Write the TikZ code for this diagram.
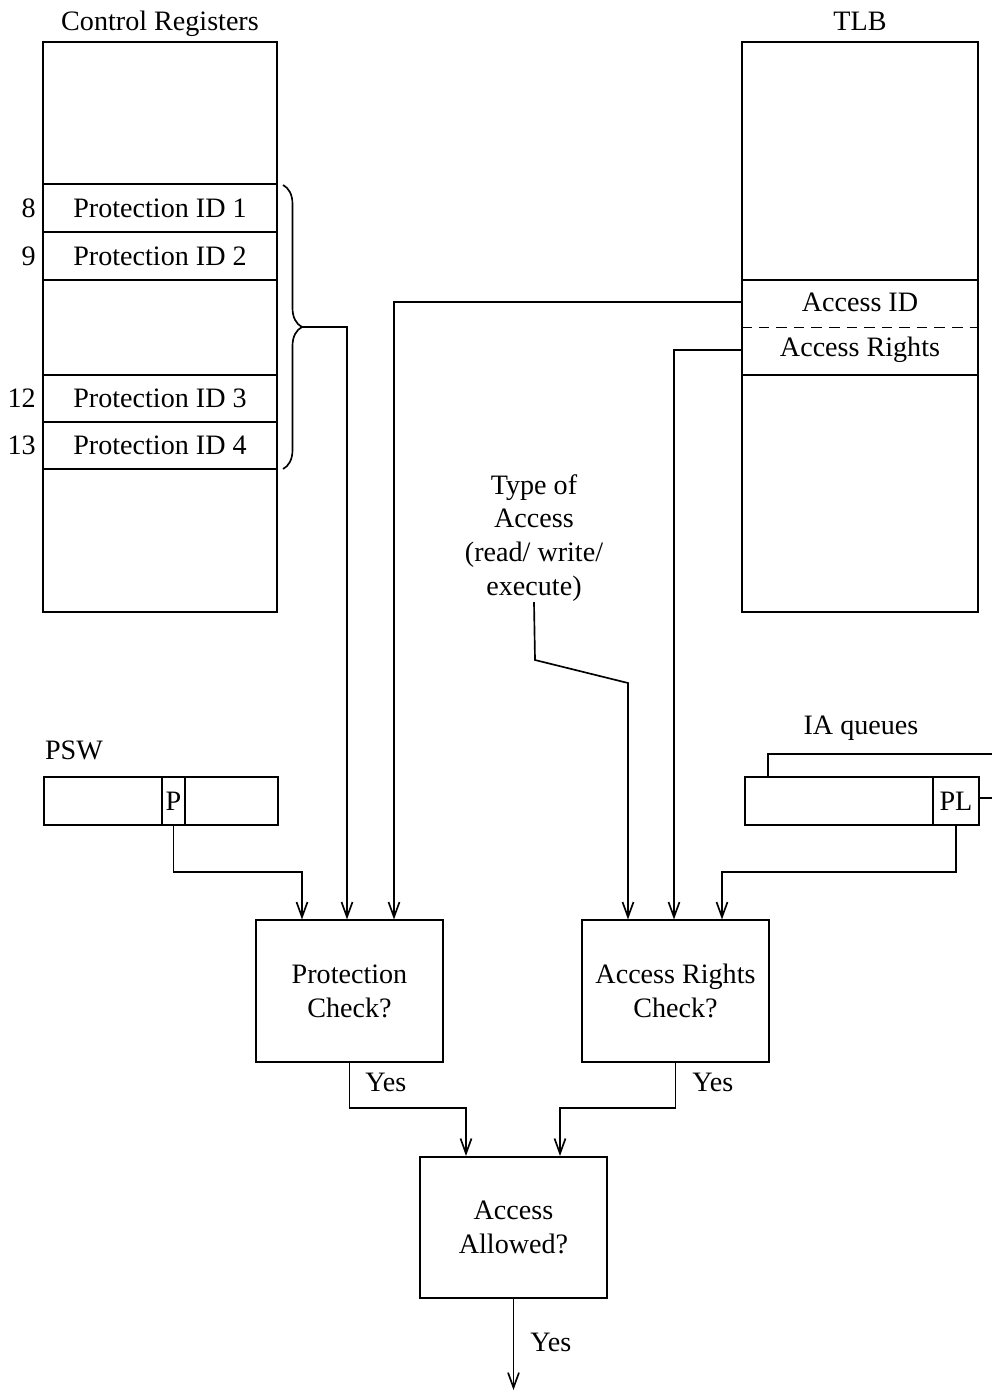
\documentclass[tikz,border=0pt]{standalone}
\usepackage{fontspec}
\setmainfont{Liberation Serif}
\usetikzlibrary{arrows.meta,decorations.pathreplacing,calc}
\begin{document}
\begin{tikzpicture}[x=0.02cm,y=-0.02cm,
  every node/.style={font=\fontsize{16}{19.3}\selectfont, inner sep=0pt},
  ln/.style={line width=0.95pt},
  arr/.style={line width=0.95pt, -{Straight Barb[length=0.3cm,width=0.22cm,line width=0.95pt]}},
  bigbox/.style={draw, line width=0.95pt, minimum width=4.7cm, minimum height=11.4cm},
  regrow/.style={draw, line width=0.95pt, minimum width=4.68cm, minimum height=0.95cm},
  field/.style={draw, line width=0.95pt, minimum height=0.96cm},
  checkbox/.style={draw, line width=0.95pt, minimum width=3.74cm, minimum height=2.83cm, align=center},
  lbl/.style={align=center}
]
\useasboundingbox (0,0) rectangle (992,1393);

% Control registers
\node[lbl, anchor=base] (crt) at (160,30) {Control Registers};
\node[bigbox, minimum width=4.68cm] (cr) at (160,327) {};
\node[regrow] (pid1) at (160,208) {Protection ID 1};
\node[regrow] (pid2) at (160,256) {Protection ID 2};
\node[regrow] (pid3) at (160,398.5) {Protection ID 3};
\node[regrow] (pid4) at (160,445.5) {Protection ID 4};
\node[anchor=east] (n8) at (36,208) {8};
\node[anchor=east] (n9) at (36,256) {9};
\node[anchor=east] (n12) at (36,398.5) {12};
\node[anchor=east] (n13) at (36,445.5) {13};
\coordinate (brtop) at (283,185);
\coordinate (brbot) at (283,469);
\draw[ln, decorate, decoration={brace, amplitude=0.38cm}] (brtop) -- (brbot);
\coordinate (brtip) at (302,327);

% TLB
\node[lbl, anchor=base] (tlbt) at (860,30) {TLB};
\node[bigbox, minimum width=4.72cm] (tlb) at (860,327) {};
\node[draw, line width=0.95pt, minimum width=4.72cm, minimum height=1.9cm] (arow) at (860,327.5) {};
\draw[ln, dashed, dash pattern=on 6pt off 4pt] (arow.west) -- (arow.east);
\node (aid) at (860,302) {Access ID};
\node (ar) at (860,350) {Access Rights};

% Type of access
\node[lbl] (type) at (534,538) {Type of\\Access\\(read/ write/\\execute)};

% PSW
\node[lbl] (pswt) at (74,750) {PSW};
\node[field, minimum width=4.68cm] (psw) at (161,801) {};
\node[field, minimum width=0.46cm] (p) at (173.5,801) {P};

% IA queues
\node[lbl] (iat) at (861,728) {IA queues};
\node[field, minimum width=4.68cm] (ia) at (862,801) {};
\node[field, minimum width=0.92cm] (pl) at (956,801) {PL};
\coordinate (iatopend) at (992,754);
\coordinate (iarightend) at (992,798);
\draw[ln] (768,777 |- ia.north) -- (768,754) -- (iatopend);
\draw[ln] (pl.east |- 0,798) -- (iarightend);

% Check boxes
\node[checkbox] (pc) at (349.5,991) {Protection\\Check?};
\node[checkbox] (arc) at (675.5,991) {Access Rights\\Check?};
\node[checkbox] (aa) at (513.5,1227.5) {Access\\Allowed?};
\coordinate (out) at (513.5,1390);

% Connectors into Protection Check
\draw[arr] (p.south) |- (302,872) -- (302,872 |- pc.north);
\draw[arr] (brtip) -| (347,327 |- pc.north);
\draw[arr] (arow.west |- aid) -| (394,302 |- pc.north);

% Connectors into Access Rights Check
\draw[arr] (type.south) -- (535,660) -- (628,683) -- (628,683 |- arc.north);
\draw[arr] (arow.west |- ar) -| (674,350 |- arc.north);
\draw[arr] (pl.south) |- (722,872) -- (722,872 |- arc.north);

% Into Access Allowed
\draw[arr] (pc.south) |- (466,1108) -- (466,1108 |- aa.north);
\draw[arr] (arc.south) |- (560,1108) -- (560,1108 |- aa.north);
\draw[arr] (aa.south) -- (out);

\node[anchor=west] (y1) at (365,1082) {Yes};
\node[anchor=west] (y2) at (692,1082) {Yes};
\node[anchor=west] (y3) at (530,1342) {Yes};
\end{tikzpicture}
\end{document}
